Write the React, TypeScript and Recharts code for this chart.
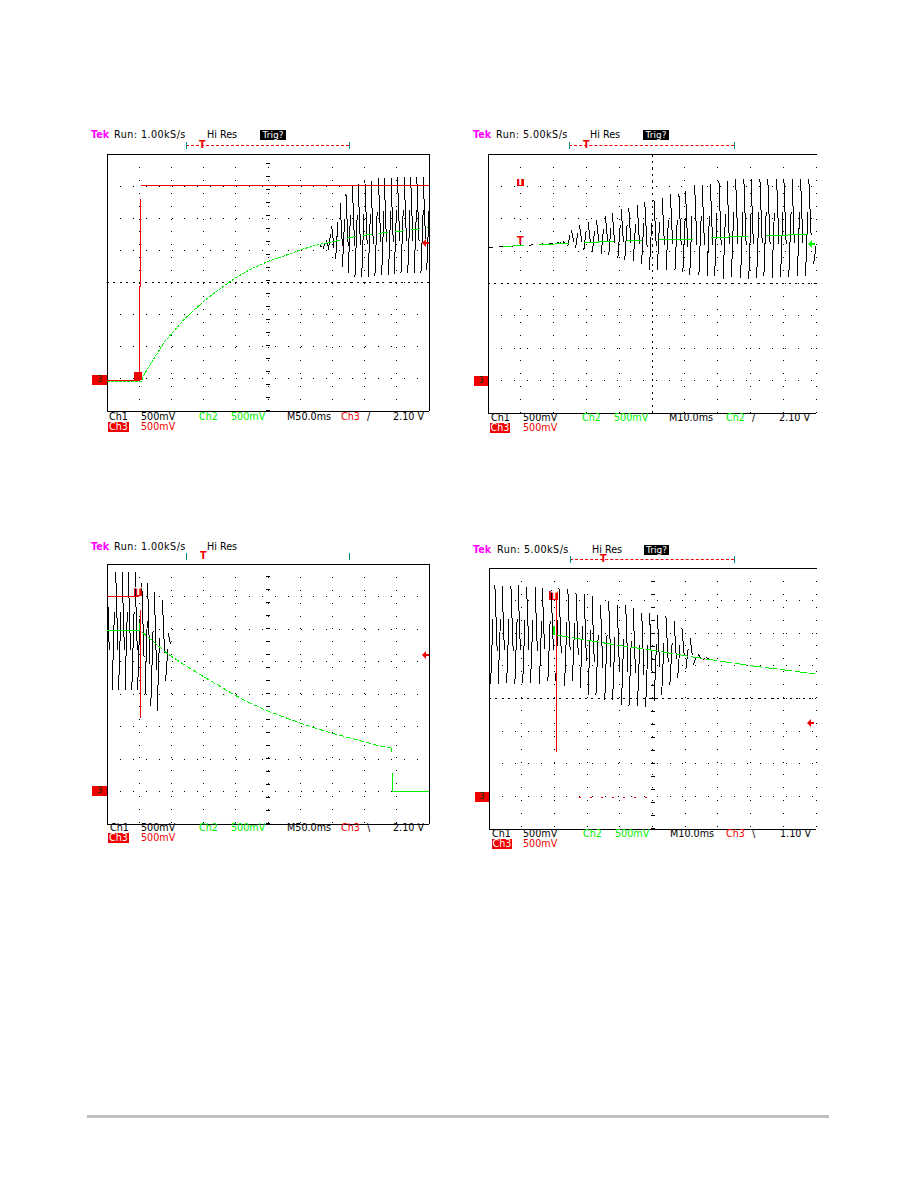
import React from "react";
import {
  LineChart,
  Line,
  XAxis,
  YAxis,
  CartesianGrid,
  ReferenceLine,
  ReferenceArea,
} from "recharts";

type Pt = [number, number | null];

const xDivisions = [0, 1, 2, 3, 4, 5, 6, 7, 8, 9, 10];
const yDivisions = [0, 1, 2, 3, 4, 5, 6, 7, 8];

// ---- Values are read in screen divisions (x: 0..10, y: 0..8 from the bottom) ----

const p1Black: Pt[] = [
  [6.61, 5.16], [6.71, 5.06], [6.8, 5.31], [6.87, 5.0], [6.98, 5.75], [7.1, 4.72], [7.24, 6.46], [7.31, 4.47],
  [7.42, 6.77], [7.49, 4.29], [7.62, 7.02], [7.7, 4.16], [7.8, 7.08], [7.91, 4.16], [8.01, 7.17], [8.11, 4.16],
  [8.2, 7.17], [8.32, 4.19], [8.43, 7.24], [8.53, 4.22], [8.61, 7.24], [8.74, 4.22], [8.82, 7.24], [8.92, 4.25],
  [9.02, 7.27], [9.13, 4.29], [9.23, 7.27], [9.34, 4.29], [9.43, 7.27], [9.54, 4.29], [9.62, 7.27], [9.75, 4.29],
  [9.82, 7.27], [9.93, 4.38], [9.98, 7.17],
];
const p1Green: Pt[] = [
  [0, 0.93], [1.08, 0.93], [1.1, 1.05], [1.78, 2.15], [2.42, 2.88], [3.04, 3.45], [3.66, 3.91], [3.98, 4.14],
  [4.49, 4.43], [5.01, 4.66], [5.53, 4.84], [6.05, 5.03], [6.56, 5.18], [6.98, 5.26],
];
const p1GreenDashed: Pt[] = [
  [6.98, 5.26], [7.6, 5.41], [8.32, 5.52], [9.15, 5.6], [9.96, 5.7],
];
const p1Red: Pt[] = [
  [0, 0.96], [1.0, 0.96], [1.0, 3.86], [1.03, 3.86], [1.03, 6.6], [1.03, null], [1.06, 7.01], [10, 7.01],
];

const p2Black: Pt[] = [
  [2.11, 5.28], [2.16, 5.21], [2.28, 5.33], [2.43, 5.15], [2.54, 5.66], [2.67, 5.11], [2.79, 5.8], [2.92, 5.02],
  [3.05, 5.9], [3.18, 4.97], [3.31, 5.95], [3.45, 4.92], [3.58, 6.07], [3.68, 4.87], [3.79, 6.17], [3.96, 4.8],
  [4.06, 6.31], [4.17, 4.74], [4.29, 6.34], [4.43, 4.7], [4.55, 6.43], [4.68, 4.59], [4.78, 6.51], [4.92, 4.43],
  [5.06, 6.59], [5.16, 4.41], [5.31, 6.65], [5.43, 4.43], [5.56, 6.75], [5.7, 4.41], [5.82, 6.77], [5.94, 4.36],
  [6.02, 6.87], [6.15, 4.25], [6.3, 7.03], [6.43, 4.25], [6.53, 7.03], [6.68, 4.22], [6.78, 7.06], [6.91, 4.22],
  [7.04, 7.18], [7.17, 4.15], [7.29, 7.18], [7.42, 4.2], [7.55, 7.23], [7.7, 4.18], [7.8, 7.23], [7.95, 4.15],
  [8.02, 7.23], [8.19, 4.18], [8.29, 7.23], [8.41, 4.22], [8.53, 7.23], [8.66, 4.18], [8.8, 7.23], [8.92, 4.2],
  [9.02, 7.23], [9.17, 4.2], [9.27, 7.23], [9.43, 4.22], [9.53, 7.23], [9.68, 4.22], [9.78, 7.23], [9.93, 4.61],
  [10, 5.43],
];
const p2BlackLead: Pt[] = [
  [0.03, 5.11], [1.1, 5.17], [2.11, 5.26],
];
const p2Green: Pt[] = [
  [0.45, 5.13], [0.74, 5.13], [0.74, null], [0.77, 5.17], [1.09, 5.17], [1.09, null],
  [1.55, 5.2], [2.01, 5.2], [2.01, null], [2.03, 5.23], [2.46, 5.23], [2.46, null],
  [2.94, 5.26], [3.38, 5.26], [3.38, 5.29], [3.84, 5.29], [3.84, null],
  [4.24, 5.32], [4.7, 5.32], [4.7, null], [5.21, 5.35], [5.72, 5.35], [5.77, 5.37], [6.26, 5.37], [6.26, null],
  [6.81, 5.42], [7.34, 5.42], [7.37, 5.45], [7.92, 5.45], [7.92, null],
  [8.49, 5.48], [9.12, 5.48], [9.17, 5.51], [9.75, 5.51],
];

const p3Black: Pt[] = [
  [0, 7.75], [0.16, 4.12], [0.27, 7.75], [0.36, 4.12], [0.47, 7.75], [0.56, 4.12], [0.66, 7.75], [0.77, 4.12],
  [0.87, 7.75], [0.95, 4.12], [1.08, 7.42], [1.18, 3.97], [1.26, 7.42], [1.36, 3.63], [1.47, 7.14], [1.56, 3.48],
  [1.72, 6.89], [1.82, 4.4], [1.9, 5.88], [1.96, 5.35],
];
const p3GreenSteps: Pt[] = [
  [0, 5.96], [1.0, 5.96], [1.0, 6.18], [1.0, null],
  [8.82, 2.34], [8.84, 2.21], [8.84, null],
  [8.86, 1.57], [8.86, 1.01], [10, 1.01],
];
const p3GreenCurve: Pt[] = [
  [1.1, 5.9], [1.85, 5.26], [2.32, 4.95], [2.99, 4.54], [3.98, 3.96], [4.49, 3.7], [5.01, 3.47], [5.63, 3.24],
  [6.36, 2.98], [7.08, 2.77], [7.8, 2.58], [8.32, 2.44], [8.82, 2.34],
];
const p3Red: Pt[] = [
  [0, 7.01], [1.0, 7.01], [1.0, null], [1.03, 6.59], [1.03, 3.26],
];

const p4Black: Pt[] = [
  [0.05, 4.43], [0.18, 7.49], [0.28, 4.43], [0.4, 7.46], [0.54, 4.48], [0.67, 7.44], [0.79, 4.43], [0.89, 7.47],
  [1.03, 4.48], [1.15, 7.41], [1.27, 4.48], [1.41, 7.41], [1.54, 4.43], [1.63, 7.39], [1.8, 4.53], [1.9, 7.34],
  [2.04, 4.53], [2.14, 7.39], [2.31, 4.37], [2.41, 7.37], [2.55, 4.53], [2.66, 7.24], [2.79, 4.33], [2.91, 7.19],
  [3.03, 4.12], [3.15, 7.13], [3.27, 4.1], [3.41, 6.88], [3.54, 3.94], [3.66, 6.98], [3.78, 3.94], [3.92, 6.88],
  [4.05, 3.81], [4.18, 6.88], [4.28, 3.76], [4.41, 6.78], [4.54, 3.76], [4.67, 6.63], [4.79, 3.73], [4.91, 6.63],
  [5.05, 3.91], [5.15, 6.57], [5.28, 4.12], [5.41, 6.52], [5.53, 4.4], [5.66, 6.37], [5.77, 4.63], [5.9, 6.17],
  [6.02, 4.89], [6.15, 5.86], [6.25, 5.04], [6.4, 5.35], [6.54, 5.19], [6.64, 5.25], [6.76, 5.19],
];
const p4GreenStub: Pt[] = [
  [1.99, 6.21], [1.99, 5.96],
];
const p4Green: Pt[] = [
  [2.09, 5.94], [4.02, 5.62], [5.05, 5.47], [6.07, 5.3], [7.1, 5.14], [8.12, 4.99], [9.15, 4.86], [9.97, 4.75],
];
const p4Red: Pt[] = [
  [2.06, 7.03], [2.06, 2.36],
];
const p4RedFaint: Pt[] = [
  [2.76, 0.98], [5.07, 0.98],
];

const GREEN = "#00ee00";
const RED = "#f00000";
const BLACK = "#000000";

// The undersampled ripple shows as separate steep strokes that run from each peak
// most of the way towards the following peak, instead of one connected zig-zag.
const strokes = (peaks: Pt[], reach: number): Pt[] => {
  const out: Pt[] = [];
  peaks.forEach((p, i) => {
    const next = peaks[i + 1];
    if (!next) return;
    const y0 = p[1] as number;
    const y1 = next[1] as number;
    out.push([p[0], y0], [p[0] + 0.07, y0 + (y1 - y0) * reach], [p[0] + 0.07, null]);
  });
  return out;
};

type Trace = { pts: Pt[]; color: string; dash?: string; width?: number };
type Box = { x1: number; x2: number; y1: number; y2: number; color: string };
type Txt = { x: number; t: string; color?: string };

type ScopeProps = {
  left: number;
  top: number;
  width: number;
  height: number;
  traces: Trace[];
  boxes: Box[];
  rightBorder: boolean;
  denseRow: boolean;
  denseCol: boolean;
};

const toRows = (pts: Pt[]) => pts.map(([x, y]) => ({ x, y }));

function Scope({ left, top, width, height, traces, boxes, rightBorder, denseRow, denseCol }: ScopeProps) {
  return (
    <div style={{ position: "absolute", left: left - 1, top: top - 1 }}>
      <LineChart width={width + 2} height={height + 2} margin={{ top: 1, right: 1, bottom: 1, left: 1 }}>
        <XAxis type="number" dataKey="x" domain={[0, 10]} ticks={xDivisions} hide />
        <YAxis type="number" dataKey="y" domain={[0, 8]} ticks={yDivisions} hide />
        <CartesianGrid stroke={BLACK} strokeDasharray="1 11.9" />
        {denseRow && <ReferenceLine y={4} stroke={BLACK} strokeDasharray="2 4.4" />}
        {denseCol ? (
          <ReferenceLine x={5} stroke={BLACK} strokeDasharray="2 4.4" />
        ) : (
          <ReferenceLine x={5} stroke={BLACK} strokeWidth={4} strokeDasharray="1 12" />
        )}
        <ReferenceLine x={0} stroke={BLACK} />
        <ReferenceLine y={0} stroke={BLACK} />
        <ReferenceLine y={8} stroke={BLACK} />
        {rightBorder && <ReferenceLine x={10} stroke={BLACK} />}
        {boxes.map((b, i) => (
          <ReferenceArea key={i} x1={b.x1} x2={b.x2} y1={b.y1} y2={b.y2} fill={b.color} fillOpacity={1} stroke="none" />
        ))}
        {traces.map((s, i) => (
          <Line
            key={i}
            data={toRows(s.pts)}
            dataKey="y"
            stroke={s.color}
            strokeWidth={s.width ?? 1}
            strokeDasharray={s.dash}
            dot={false}
            activeDot={false}
            isAnimationActive={false}
            connectNulls={false}
            legendType="none"
          />
        ))}
      </LineChart>
    </div>
  );
}

const FONT = "'DejaVu Sans', sans-serif";

function T({ x, y, t, color = BLACK, bg, bold, spacing }: { x: number; y: number; t: string; color?: string; bg?: string; bold?: boolean; spacing?: number }) {
  return (
    <span
      style={{
        position: "absolute",
        left: x,
        top: y - 6,
        height: 12,
        lineHeight: "12px",
        fontFamily: FONT,
        fontSize: 9.6,
        fontWeight: bold ? 700 : 400,
        letterSpacing: spacing,
        color,
        background: bg,
        whiteSpace: "pre",
      }}
    >
      {t}
    </span>
  );
}

function TriggerBar({ y, x1, x2, tx, dashed }: { y: number; x1: number; x2: number; tx: number; dashed: boolean }) {
  return (
    <>
      {dashed && <div style={{ position: "absolute", left: x1, top: y, width: x2 - x1, borderTop: "1px dashed " + RED }} />}
      <div style={{ position: "absolute", left: x1, top: y - 3, width: 2, height: 7, borderLeft: "1px solid #008888" }} />
      <div style={{ position: "absolute", left: x2 - 2, top: y - 3, width: 2, height: 7, borderRight: "1px solid #008888" }} />
      <T x={tx - 3} y={y} t="T" color={RED} bold />
    </>
  );
}

function Flag({ x, y, w, h, t }: { x: number; y: number; w: number; h: number; t: string }) {
  return (
    <div
      style={{
        position: "absolute",
        left: x,
        top: y,
        width: w,
        height: h,
        background: RED,
        color: "#003300",
        fontFamily: FONT,
        fontSize: 8,
        lineHeight: h + "px",
        textAlign: "center",
      }}
    >
      {t}
    </div>
  );
}

function Arrow({ x, y, color }: { x: number; y: number; color: string }) {
  return (
    <svg style={{ position: "absolute", left: x, top: y - 4 }} width={7} height={8}>
      <polygon points="0,4 4,0 4,3 7,3 7,5 4,5 4,8" fill={color} />
    </svg>
  );
}

function Header({ y, tek, run, runX, hi, trig }: { y: number; tek: number; run: string; runX: number; hi: number; trig?: [number, number, string] }) {
  return (
    <>
      <T x={tek} y={y} t="Tek" color="#ff00ff" bold />
      <T x={runX} y={y} t={run} spacing={0.45} />
      <T x={hi} y={y} t="Hi Res" />
      {trig && (
        <span
          style={{
            position: "absolute",
            left: trig[0],
            top: y - 5,
            width: trig[1],
            height: 10,
            lineHeight: "10px",
            background: BLACK,
            color: "#ffffff",
            fontFamily: FONT,
            fontSize: 9,
            textAlign: "center",
          }}
        >
          {trig[2]}
        </span>
      )}
    </>
  );
}

function Footer({ y, items, ch3X, ch3W, mvX }: { y: number; items: Txt[]; ch3X: number; ch3W: number; mvX: number }) {
  return (
    <>
      {items.map((it, i) => (
        <T key={i} x={it.x} y={y} t={it.t} color={it.color} />
      ))}
      <span
        style={{
          position: "absolute",
          left: ch3X,
          top: y + 5,
          width: ch3W,
          height: 10,
          lineHeight: "10px",
          background: RED,
          color: "#ffffff",
          fontFamily: FONT,
          fontSize: 9.6,
          textAlign: "center",
        }}
      >
        Ch3
      </span>
      <T x={mvX} y={y + 10} t="500mV" color={RED} />
    </>
  );
}

export default function App() {
  return (
    <div style={{ position: "absolute", left: 0, top: 0, width: 918, height: 1188, background: "#fff", overflow: "hidden" }}>
      <style>{`.recharts-surface path, .recharts-surface line, .recharts-surface rect { shape-rendering: crispEdges; }`}</style>

      {/* Panel 1 */}
      <Header y={135} tek={91} run="Run: 1.00kS/s" runX={114} hi={207} trig={[260, 26, "Trig?"]} />
      <TriggerBar y={145} x1={186} x2={349} tx={202} dashed />
      <Scope
        left={107}
        top={154}
        width={322}
        height={257}
        rightBorder
        denseRow
        denseCol={false}
        boxes={[{ x1: 0.85, x2: 1.08, y1: 0.98, y2: 1.21, color: RED }]}
        traces={[
          { pts: strokes(p1Black, 0.66), color: BLACK },
          { pts: p1Red, color: RED },
          { pts: p1Green, color: GREEN, dash: "3 1" },
          { pts: p1GreenDashed, color: GREEN, dash: "9 7" },
        ]}
      />
      <Flag x={92} y={375} w={15} h={10} t="3" />
      <Arrow x={422} y={243} color={RED} />
      <Footer
        y={417}
        ch3X={108}
        ch3W={21}
        mvX={141}
        items={[
          { x: 109, t: "Ch1" },
          { x: 141, t: "500mV" },
          { x: 199, t: "Ch2", color: GREEN },
          { x: 231, t: "500mV", color: GREEN },
          { x: 287, t: "M50.0ms" },
          { x: 341, t: "Ch3", color: RED },
          { x: 367, t: "/" },
          { x: 393, t: "2.10 V" },
        ]}
      />

      {/* Panel 2 */}
      <Header y={135} tek={473} run="Run: 5.00kS/s" runX={496} hi={590} trig={[643, 26, "Trig?"]} />
      <TriggerBar y={145} x1={569} x2={734} tx={586} dashed />
      <Scope
        left={488}
        top={154}
        width={328}
        height={259}
        rightBorder={false}
        denseRow
        denseCol
        boxes={[{ x1: 0.88, x2: 1.1, y1: 7.0, y2: 7.22, color: RED }]}
        traces={[
          { pts: p2BlackLead, color: BLACK, dash: "4 6" },
          { pts: strokes(p2Black, 0.66), color: BLACK },
          { pts: p2Green, color: GREEN },
        ]}
      />
      <T x={517} y={241} t="T" color={RED} bold />
      <T x={517} y={182} t="T" color="#ffffff" bold />
      <Flag x={474} y={376} w={14} h={10} t="3" />
      <Arrow x={808} y={244} color={GREEN} />
      <Footer
        y={418}
        ch3X={490}
        ch3W={20}
        mvX={523}
        items={[
          { x: 491, t: "Ch1" },
          { x: 523, t: "500mV" },
          { x: 582, t: "Ch2", color: GREEN },
          { x: 614, t: "500mV", color: GREEN },
          { x: 669, t: "M10.0ms" },
          { x: 726, t: "Ch2", color: GREEN },
          { x: 752, t: "/" },
          { x: 779, t: "2.10 V" },
        ]}
      />

      {/* Panel 3 */}
      <Header y={547} tek={91} run="Run: 1.00kS/s" runX={114} hi={207} />
      <TriggerBar y={556} x1={186} x2={349} tx={203} dashed={false} />
      <Scope
        left={107}
        top={564}
        width={322}
        height={260}
        rightBorder
        denseRow={false}
        denseCol={false}
        boxes={[{ x1: 0.84, x2: 1.08, y1: 7.01, y2: 7.26, color: RED }]}
        traces={[
          { pts: strokes(p3Black, 0.66), color: BLACK },
          { pts: p3Red, color: RED },
          { pts: p3GreenSteps, color: GREEN },
          { pts: p3GreenCurve, color: GREEN, dash: "5 2" },
        ]}
      />
      <T x={135} y={592} t="T" color="#ffffff" bold />
      <Flag x={92} y={786} w={15} h={10} t="3" />
      <Arrow x={422} y={655} color={RED} />
      <Footer
        y={828}
        ch3X={108}
        ch3W={21}
        mvX={141}
        items={[
          { x: 110, t: "Ch1" },
          { x: 141, t: "500mV" },
          { x: 199, t: "Ch2", color: GREEN },
          { x: 231, t: "500mV", color: GREEN },
          { x: 287, t: "M50.0ms" },
          { x: 341, t: "Ch3", color: RED },
          { x: 367, t: "\\" },
          { x: 393, t: "2.10 V" },
        ]}
      />

      {/* Panel 4 */}
      <Header y={550} tek={473} run="Run: 5.00kS/s" runX={497} hi={592} trig={[644, 25, "Trig?"]} />
      <TriggerBar y={559} x1={570} x2={734} tx={603} dashed />
      <Scope
        left={489}
        top={568}
        width={327}
        height={261}
        rightBorder={false}
        denseRow
        denseCol={false}
        boxes={[{ x1: 1.83, x2: 2.11, y1: 7.03, y2: 7.28, color: RED }]}
        traces={[
          { pts: strokes(p4Black, 0.66), color: BLACK },
          { pts: p4Red, color: RED },
          { pts: p4RedFaint, color: RED, dash: "2 9" },
          { pts: p4GreenStub, color: GREEN, width: 2 },
          { pts: p4Green, color: GREEN, dash: "12 3" },
        ]}
      />
      <T x={551} y={596} t="T" color="#ffffff" bold />
      <Flag x={475} y={792} w={14} h={10} t="3" />
      <Arrow x={807} y={723} color={RED} />
      <Footer
        y={834}
        ch3X={492}
        ch3W={20}
        mvX={523}
        items={[
          { x: 492, t: "Ch1" },
          { x: 523, t: "500mV" },
          { x: 583, t: "Ch2", color: GREEN },
          { x: 615, t: "500mV", color: GREEN },
          { x: 670, t: "M10.0ms" },
          { x: 726, t: "Ch3", color: RED },
          { x: 752, t: "\\" },
          { x: 780, t: "1.10 V" },
        ]}
      />

      <div style={{ position: "absolute", left: 87, top: 1115, width: 742, height: 3, background: "#bfbfbf" }} />
    </div>
  );
}
